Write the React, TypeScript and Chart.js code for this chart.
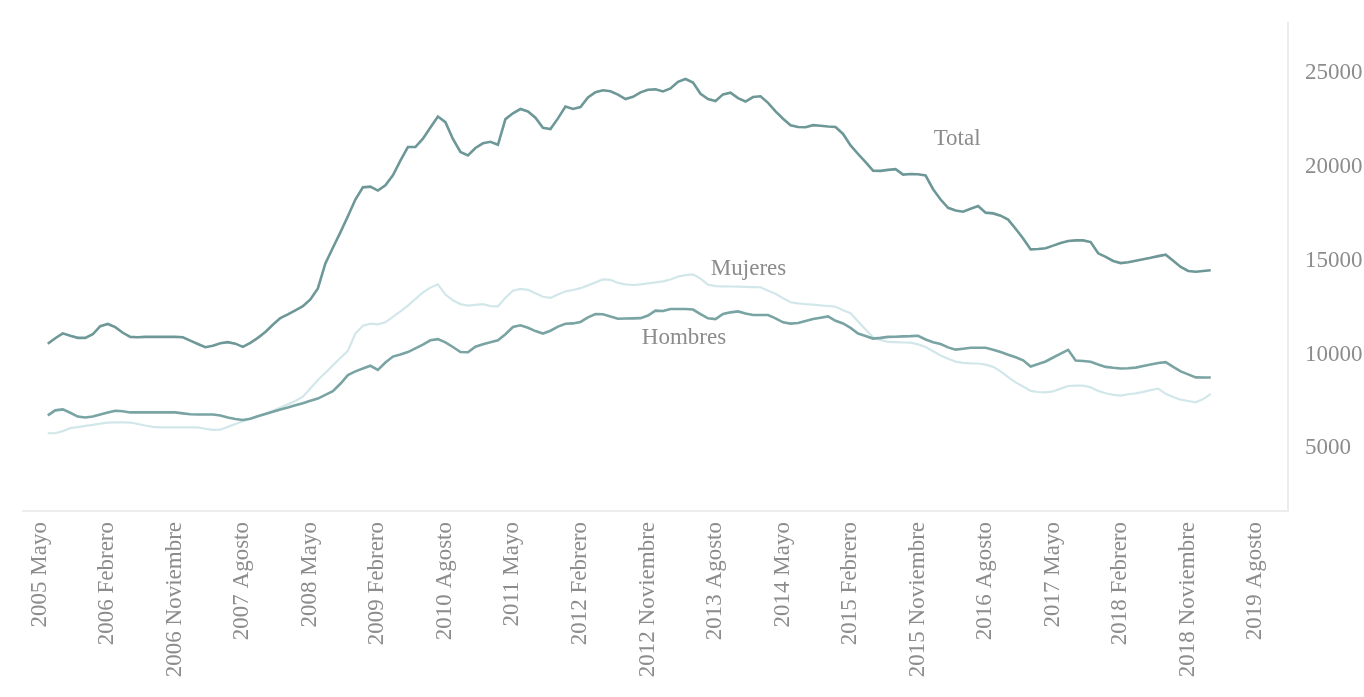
import React, { useEffect, useRef } from 'react';
import { Chart, registerables } from 'chart.js';

Chart.register(...registerables);

const tickLabels = [
  '2005 Mayo', '2006 Febrero', '2006 Noviembre', '2007 Agosto', '2008 Mayo',
  '2009 Febrero', '2010 Agosto', '2011 Mayo', '2012 Febrero', '2012 Noviembre',
  '2013 Agosto', '2014 Mayo', '2015 Febrero', '2015 Noviembre', '2016 Agosto',
  '2017 Mayo', '2018 Febrero', '2018 Noviembre', '2019 Agosto',
];

const yTicks = [5000, 10000, 15000, 20000, 25000];

const total = [
  10570, 10870, 11130, 11000, 10890, 10890, 11080, 11510, 11630, 11460,
  11160, 10940, 10920, 10940, 10940, 10940, 10940, 10940, 10920, 10740,
  10560, 10390, 10470, 10600, 10660, 10580, 10410, 10620, 10890, 11200,
  11590, 11950, 12140, 12360, 12580, 12940, 13530, 14860, 15700, 16520,
  17380, 18270, 18920, 18960, 18750, 19030, 19560, 20340, 21070, 21070,
  21520, 22110, 22700, 22400, 21500, 20810, 20620, 21020, 21270, 21350,
  21190, 22560, 22870, 23100, 22970, 22640, 22100, 22030, 22600, 23230,
  23100, 23200, 23720, 24000, 24100, 24050, 23870, 23630, 23750, 23990,
  24130, 24150, 24040, 24200, 24550, 24700, 24510, 23910, 23630, 23530,
  23880, 23970, 23680, 23500, 23740, 23780, 23430, 22970, 22580, 22230,
  22140, 22130, 22240, 22210, 22170, 22140, 21770, 21160, 20700, 20260,
  19810, 19800, 19850, 19890, 19600, 19630, 19620, 19550, 18820, 18270,
  17830, 17680, 17620, 17780, 17920, 17570, 17530, 17410, 17200, 16710,
  16190, 15610, 15630, 15670, 15810, 15950, 16060, 16090, 16090, 16000,
  15400, 15210, 14990, 14880, 14920, 15000, 15080, 15160, 15250, 15330,
  15000, 14670, 14460, 14420, 14460, 14500,
];

const hombres = [
  6750, 7020, 7070, 6890, 6690, 6640, 6690, 6800, 6900, 7000,
  6970, 6910, 6910, 6910, 6910, 6910, 6910, 6910, 6860, 6810,
  6800, 6800, 6800, 6750, 6640, 6560, 6510, 6570, 6700, 6820,
  6940, 7060, 7170, 7290, 7400, 7530, 7650, 7850, 8040, 8440,
  8900, 9100, 9250, 9400, 9180, 9570, 9890, 10000, 10130, 10330,
  10530, 10760, 10820, 10650, 10400, 10130, 10120, 10420, 10550, 10660,
  10760, 11080, 11470, 11560, 11430, 11250, 11120, 11270, 11490, 11640,
  11660, 11740, 11980, 12160, 12150, 12030, 11910, 11920, 11930, 11940,
  12080, 12340, 12320, 12430, 12430, 12430, 12400, 12160, 11930, 11890,
  12160, 12250, 12300, 12190, 12110, 12110, 12110, 11930, 11720, 11650,
  11680, 11790, 11890, 11960, 12030, 11800, 11660, 11420, 11120, 10990,
  10850, 10890, 10940, 10950, 10970, 10980, 11000, 10800, 10660, 10560,
  10380, 10260, 10310, 10360, 10360, 10360, 10260, 10130, 9990, 9850,
  9690, 9360, 9490, 9630, 9840, 10050, 10250, 9680, 9650, 9610,
  9470, 9340, 9290, 9250, 9270, 9300, 9390, 9470, 9550, 9590,
  9340, 9100, 8940, 8780, 8770, 8770,
];

const mujeres = [
  5800, 5800, 5910, 6070, 6130, 6190, 6250, 6310, 6370, 6380,
  6380, 6370, 6290, 6210, 6140, 6110, 6110, 6110, 6110, 6110,
  6110, 6040, 5980, 5990, 6140, 6290, 6440, 6580, 6720, 6850,
  7000, 7170, 7340, 7520, 7750, 8190, 8640, 9030, 9420, 9810,
  10200, 11120, 11540, 11650, 11610, 11720, 12010, 12300, 12610, 12960,
  13310, 13570, 13740, 13200, 12890, 12690, 12610, 12650, 12690, 12580,
  12570, 13030, 13400, 13500, 13450, 13270, 13080, 13020, 13200, 13370,
  13440, 13540, 13690, 13850, 14010, 13980, 13820, 13740, 13710, 13740,
  13800, 13850, 13900, 14000, 14160, 14240, 14270, 14050, 13730, 13650,
  13640, 13630, 13620, 13610, 13600, 13590, 13400, 13240, 13000, 12790,
  12730, 12690, 12660, 12620, 12590, 12550, 12360, 12200, 11760, 11330,
  10920, 10780, 10670, 10660, 10640, 10630, 10540, 10400, 10170, 9950,
  9770, 9620, 9550, 9530, 9520, 9460, 9340, 9100, 8790, 8510,
  8290, 8060, 8000, 7980, 8030, 8180, 8320, 8340, 8340, 8250,
  8060, 7930, 7850, 7810, 7880, 7930, 8010, 8100, 8180, 7900,
  7730, 7590, 7520, 7450, 7620, 7900,
];

// Series name labels placed in data coordinates (index, value)
const annotationTexts = ['Total', 'Mujeres', 'Hombres'];
const annotationIndex = [121.2, 93.4, 84.8];
const annotationValue = [21500, 14550, 10890];

const TICKS_PER_LABEL = 9;
const FONT_FAMILY = '"Liberation Serif", "DejaVu Serif", serif';
const TEXT_COLOR = '#8c8c8c';

const seriesLabelPlugin = {
  id: 'seriesLabels',
  afterDatasetsDraw(chart: any) {
    const { ctx, scales } = chart;
    ctx.save();
    ctx.font = `23px ${FONT_FAMILY}`;
    ctx.fillStyle = TEXT_COLOR;
    ctx.textAlign = 'center';
    ctx.textBaseline = 'middle';
    annotationTexts.forEach((t, k) => {
      ctx.fillText(t, scales.x.getPixelForValue(annotationIndex[k]), scales.y.getPixelForValue(annotationValue[k]));
    });
    ctx.restore();
  },
};

export default function App() {
  const ref = useRef<HTMLCanvasElement>(null);

  useEffect(() => {
    const toPoints = (arr: number[]) => arr.map((v, i) => ({ x: i, y: v }));
    const chart = new Chart(ref.current as HTMLCanvasElement, {
      type: 'line',
      data: {
        datasets: [
          { label: 'Total', data: toPoints(total), borderColor: '#6e9797', borderWidth: 2.6, pointRadius: 0, tension: 0, fill: false },
          { label: 'Hombres', data: toPoints(hombres), borderColor: '#7aa3a3', borderWidth: 2.6, pointRadius: 0, tension: 0, fill: false },
          { label: 'Mujeres', data: toPoints(mujeres), borderColor: '#d2e7e9', borderWidth: 2.2, pointRadius: 0, tension: 0, fill: false },
        ],
      },
      options: {
        responsive: false,
        animation: false,
        events: [],
        layout: { padding: { left: 23, top: 20, right: 0, bottom: 0 } },
        plugins: { legend: { display: false }, tooltip: { enabled: false } },
        scales: {
          x: {
            type: 'linear',
            position: 'bottom',
            min: -3.3,
            max: 165.3,
            grid: { display: false },
            border: { display: true, color: '#ededed', width: 2 },
            afterBuildTicks: (s: any) => {
              s.ticks = tickLabels.map((_, k) => ({ value: k * TICKS_PER_LABEL }));
            },
            afterFit: (s: any) => {
              s.height = 186;
            },
            ticks: {
              autoSkip: false,
              maxRotation: 90,
              minRotation: 90,
              padding: 3,
              labelOffset: -8,
              color: TEXT_COLOR,
              font: { family: FONT_FAMILY, size: 23 },
              callback: (v: any) => tickLabels[Math.round(Number(v) / TICKS_PER_LABEL)] ?? '',
            },
          },
          y: {
            type: 'linear',
            position: 'right',
            min: 1650,
            max: 27700,
            grid: { display: false },
            border: { display: true, color: '#ededed', width: 2 },
            afterBuildTicks: (s: any) => {
              s.ticks = yTicks.map((v) => ({ value: v }));
            },
            afterFit: (s: any) => {
              s.width = 76;
            },
            ticks: {
              padding: 9,
              color: TEXT_COLOR,
              font: { family: FONT_FAMILY, size: 23 },
              callback: (v: any) => String(v),
            },
          },
        },
      },
      plugins: [seriesLabelPlugin],
    });
    return () => chart.destroy();
  }, []);

  return (
    <div style={{ position: 'fixed', left: 0, top: 0, width: 1364, height: 697, background: '#ffffff' }}>
      <canvas ref={ref} width={1364} height={697} />
    </div>
  );
}
